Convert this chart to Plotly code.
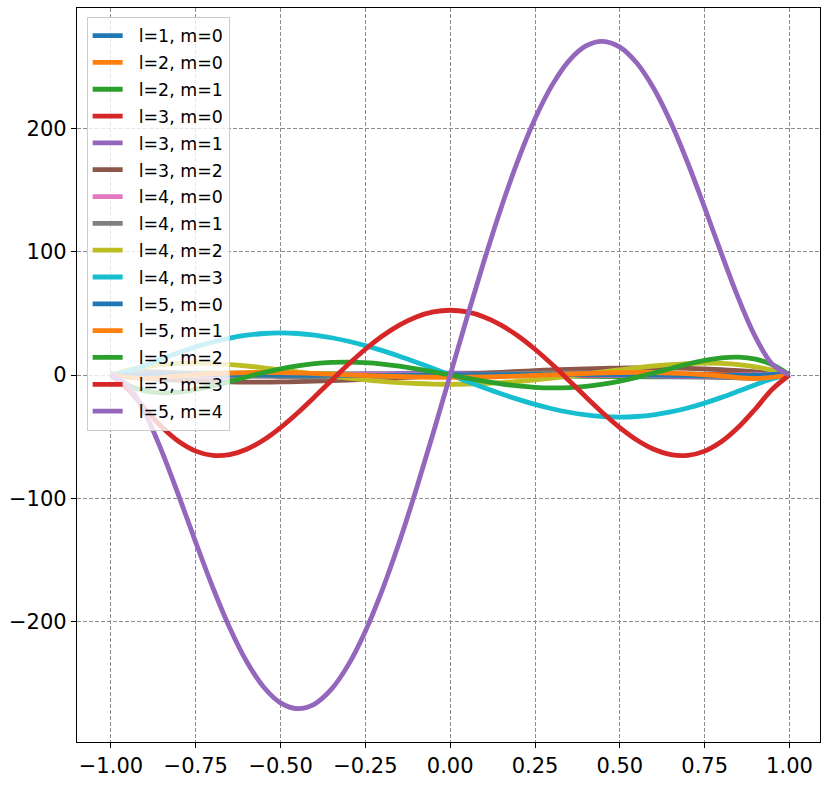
import plotly.graph_objects as go

# sample positions
x_coarse = [-1.0, -0.9, -0.8, -0.7, -0.6, -0.5, -0.4, -0.3, -0.2, -0.1, 0.0,
            0.1, 0.2, 0.3, 0.4, 0.5, 0.6, 0.7, 0.8, 0.9, 1.0]
x_fine = [-1.0, -0.95, -0.9, -0.85, -0.8, -0.75, -0.7, -0.65, -0.6, -0.55, -0.5,
          -0.45, -0.4, -0.35, -0.3, -0.25, -0.2, -0.15, -0.1, -0.05, 0.0,
          0.05, 0.1, 0.15, 0.2, 0.25, 0.3, 0.35, 0.4, 0.45, 0.5,
          0.55, 0.6, 0.65, 0.7, 0.75, 0.8, 0.85, 0.9, 0.95, 1.0]

# values (coarse grid)
l1_m0 = [-1.0, -0.9, -0.8, -0.7, -0.6, -0.5, -0.4, -0.3, -0.2, -0.1, 0.0,
         0.1, 0.2, 0.3, 0.4, 0.5, 0.6, 0.7, 0.8, 0.9, 1.0]
l2_m0 = [1.0, 0.715, 0.46, 0.235, 0.04, -0.125, -0.26, -0.365, -0.44, -0.485, -0.5,
         -0.485, -0.44, -0.365, -0.26, -0.125, 0.04, 0.235, 0.46, 0.715, 1.0]
l2_m1 = [0.0, 1.177, 1.44, 1.5, 1.44, 1.299, 1.1, 0.859, 0.588, 0.299, 0.0,
         -0.299, -0.588, -0.859, -1.1, -1.299, -1.44, -1.5, -1.44, -1.177, 0.0]
l3_m0 = [-1.0, -0.473, -0.08, 0.193, 0.36, 0.438, 0.44, 0.383, 0.28, 0.148, 0.0,
         -0.148, -0.28, -0.383, -0.44, -0.438, -0.36, -0.193, 0.08, 0.473, 1.0]
l3_m1 = [0.0, -1.994, -1.98, -1.553, -0.96, -0.325, 0.275, 0.787, 1.176, 1.418, 1.5,
         1.418, 1.176, 0.787, 0.275, -0.325, -0.96, -1.553, -1.98, -1.994, 0.0]
l4_m0 = [1.0, 0.208, -0.233, -0.412, -0.408, -0.289, -0.113, 0.073, 0.232, 0.338, 0.375,
         0.338, 0.232, 0.073, -0.113, -0.289, -0.408, -0.412, -0.233, 0.208, 1.0]
l4_m1 = [0.0, 2.619, 1.776, 0.537, -0.576, -1.353, -1.723, -1.696, -1.333, -0.729, 0.0,
         0.729, 1.333, 1.696, 1.723, 1.353, 0.576, -0.537, -1.776, -2.619, 0.0]
l5_m0 = [-1.0, 0.041, 0.4, 0.365, 0.153, -0.09, -0.271, -0.345, -0.308, -0.179, 0.0,
         0.179, 0.308, 0.345, 0.271, 0.09, -0.153, -0.365, -0.4, -0.041, 1.0]
l5_m1 = [0.0, -2.81, -0.722, 1.095, 1.978, 1.928, 1.207, 0.161, -0.87, -1.608, -1.875,
         -1.608, -0.87, 0.161, 1.207, 1.928, 1.978, 1.095, -0.722, -2.81, 0.0]

# values (fine grid)
l3_m2 = [0.0, -1.389, -2.565, -3.538, -4.32, -4.922, -5.355, -5.631, -5.76, -5.754, -5.625,
         -5.383, -5.04, -4.607, -4.095, -3.516, -2.88, -2.199, -1.485, -0.748, 0.0,
         0.748, 1.485, 2.199, 2.88, 3.516, 4.095, 4.607, 5.04, 5.383, 5.625,
         5.754, 5.76, 5.631, 5.355, 4.922, 4.32, 3.538, 2.565, 1.389, 0.0]
l4_m2 = [0.0, 3.888, 6.655, 8.445, 9.396, 9.639, 9.295, 8.479, 7.296, 5.846, 4.219,
         2.497, 0.756, -0.938, -2.525, -3.955, -5.184, -6.177, -6.905, -7.35, -7.5,
         -7.35, -6.905, -6.177, -5.184, -3.955, -2.525, -0.938, 0.756, 2.497, 4.219,
         5.846, 7.296, 8.479, 9.295, 9.639, 9.396, 8.445, 6.655, 3.888, 0.0]
l4_m3 = [0.0, 3.037, 7.826, 13.047, 18.144, 22.789, 26.769, 29.952, 32.256, 33.641, 34.1,
         33.651, 32.335, 30.208, 27.345, 23.828, 19.753, 15.221, 10.343, 5.23, 0.0,
         -5.23, -10.343, -15.221, -19.753, -23.828, -27.345, -30.208, -32.335, -33.651, -34.1,
         -33.641, -32.256, -29.952, -26.769, -22.789, -18.144, -13.047, -7.826, -3.037, 0.0]
l5_m2 = [0.0, -8.303, -12.838, -14.458, -13.91, -11.843, -8.809, -5.272, -1.613, 1.863, 4.922,
         7.395, 9.173, 10.198, 10.463, 9.998, 8.87, 7.178, 5.042, 2.599, 0.0,
         -2.599, -5.042, -7.178, -8.87, -9.998, -10.463, -10.198, -9.173, -7.395, -4.922,
         -1.863, 1.613, 5.272, 8.809, 11.843, 13.91, 14.458, 12.838, 8.303, 0.0]
l5_m3 = [0.0, -11.384, -27.349, -42.23, -53.978, -61.719, -65.202, -64.571, -60.211, -52.679, -42.625,
         -30.753, -17.784, -4.423, 8.659, 20.849, 31.605, 40.463, 47.06, 51.127, 52.5,
         51.127, 47.06, 40.463, 31.605, 20.849, 8.659, -4.423, -17.784, -30.753, -42.625,
         -52.679, -60.211, -64.571, -65.202, -61.719, -53.978, -42.23, -27.349, -11.384, 0.0]
l5_m4 = [0.0, -8.534, -30.703, -61.855, -97.978, -135.659, -172.056, -204.856, -232.243, -252.862, -265.781,
         -270.462, -266.717, -254.68, -234.766, -207.642, -174.182, -135.443, -92.619, -47.014, 0.0,
         47.014, 92.619, 135.443, 174.182, 207.642, 234.766, 254.68, 266.717, 270.462, 265.781,
         252.862, 232.243, 204.856, 172.056, 135.659, 97.978, 61.855, 30.703, 8.534, 0.0]

series = [
    ("l=1, m=0", x_coarse, l1_m0),
    ("l=2, m=0", x_coarse, l2_m0),
    ("l=2, m=1", x_coarse, l2_m1),
    ("l=3, m=0", x_coarse, l3_m0),
    ("l=3, m=1", x_coarse, l3_m1),
    ("l=3, m=2", x_fine, l3_m2),
    ("l=4, m=0", x_coarse, l4_m0),
    ("l=4, m=1", x_coarse, l4_m1),
    ("l=4, m=2", x_fine, l4_m2),
    ("l=4, m=3", x_fine, l4_m3),
    ("l=5, m=0", x_coarse, l5_m0),
    ("l=5, m=1", x_coarse, l5_m1),
    ("l=5, m=2", x_fine, l5_m2),
    ("l=5, m=3", x_fine, l5_m3),
    ("l=5, m=4", x_fine, l5_m4),
]

colors = ["#1f77b4", "#ff7f0e", "#2ca02c", "#d62728", "#9467bd",
          "#8c564b", "#e377c2", "#7f7f7f", "#bcbd22", "#17becf"]

fig = go.Figure()
for i, (name, xs, ys) in enumerate(series):
    fig.add_trace(go.Scatter(
        x=xs, y=ys, mode="lines", name="\u00a0\u00a0" + name,
        legendgroup="g%d" % i,
        line=dict(color=colors[i % 10], width=4.8, shape="spline"),
    ))

axis_common = dict(
    showline=True, mirror=True, linecolor="black", linewidth=1.3,
    ticks="outside", ticklen=5, tickwidth=1.2, tickcolor="black",
    showgrid=True, gridcolor="#8c8c8c", gridwidth=1, griddash="4px,2px",
    zeroline=False,
    tickfont=dict(family="DejaVu Sans", size=21, color="black"),
)

fig.update_layout(
    width=828, height=785,
    margin=dict(l=77, r=7, t=7, b=39),
    plot_bgcolor="white", paper_bgcolor="white",
    font=dict(family="DejaVu Sans", color="black"),
    showlegend=True,
    legend=dict(
        x=0.013, y=0.988, xanchor="left", yanchor="top",
        bgcolor="rgba(255,255,255,0.8)", bordercolor="#cccccc", borderwidth=1,
        font=dict(family="DejaVu Sans", size=17.4, color="black"),
        tracegroupgap=1.2,
    ),
)
fig.update_xaxes(range=[-1.1, 1.09], tick0=-1, dtick=0.25, tickformat=".2f", **axis_common)
fig.update_yaxes(range=[-297.5, 297.5], tick0=0, dtick=100, **axis_common)

fig.write_html("out.html")
